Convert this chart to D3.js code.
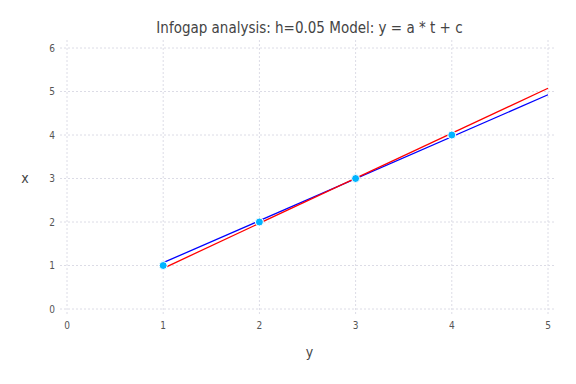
<!DOCTYPE html>
<html lang="en">
<head>
<meta charset="UTF-8">
<title>Infogap analysis</title>
<script src="https://d3js.org/d3.v7.min.js"></script>
<style>
  body { margin: 0; background: #fff; }
  text { font-family: "DejaVu Sans Condensed", "DejaVu Sans", sans-serif; }
</style>
</head>
<body>
<script>
// data
const xTicks = [0, 1, 2, 3, 4, 5];
const yTicks = [0, 1, 2, 3, 4, 5, 6];
const pointX = [1, 2, 3, 4];
const pointY = [1, 2, 3, 4];
const lineX = [1, 5];
const upperY = [0.935, 5.075];   // red
const lowerY = [1.065, 4.925];   // blue

const width = 576, height = 384;
const m = { left: 67, right: 548, top: 48, bottom: 309 };

const svg = d3.select("body").append("svg")
  .attr("width", width)
  .attr("height", height);

const x = d3.scaleLinear().domain([0, 5]).range([m.left, m.right]);
const y = d3.scaleLinear().domain([0, 6]).range([m.bottom, m.top]);

// grid
svg.append("g")
  .selectAll("line")
  .data(xTicks)
  .join("line")
  .attr("x1", d => x(d)).attr("x2", d => x(d))
  .attr("y1", m.top - 8).attr("y2", m.bottom + 6)
  .attr("stroke", "#dcdce6")
  .attr("stroke-dasharray", "2,2");

svg.append("g")
  .selectAll("line")
  .data(yTicks)
  .join("line")
  .attr("x1", m.left - 7).attr("x2", m.right + 7)
  .attr("y1", d => y(d)).attr("y2", d => y(d))
  .attr("stroke", "#dcdce6")
  .attr("stroke-dasharray", "2,2");

// tick labels
svg.append("g")
  .selectAll("text")
  .data(xTicks)
  .join("text")
  .attr("x", d => x(d))
  .attr("y", m.bottom + 20)
  .attr("text-anchor", "middle")
  .attr("font-size", 10)
  .attr("fill", "#555")
  .text(d => d);

svg.append("g")
  .selectAll("text")
  .data(yTicks)
  .join("text")
  .attr("x", m.left - 12)
  .attr("y", d => y(d))
  .attr("dy", "0.35em")
  .attr("text-anchor", "end")
  .attr("font-size", 10)
  .attr("fill", "#555")
  .text(d => d);

// axis titles
svg.append("text")
  .attr("x", (m.left + m.right) / 2 + 2)
  .attr("y", 357)
  .attr("text-anchor", "middle")
  .attr("font-size", 14)
  .attr("fill", "#444")
  .text("y");

svg.append("text")
  .attr("x", 25)
  .attr("y", (m.top + m.bottom) / 2)
  .attr("dy", "0.35em")
  .attr("text-anchor", "middle")
  .attr("font-size", 14)
  .attr("fill", "#444")
  .text("x");

svg.append("text")
  .attr("x", (m.left + m.right) / 2 + 2)
  .attr("y", 33)
  .attr("text-anchor", "middle")
  .attr("font-size", 15)
  .attr("fill", "#444")
  .text("Infogap analysis: h=0.05 Model: y = a * t + c");

// model bounds
const line = d3.line().x(d => x(d[0])).y(d => y(d[1]));

svg.append("path")
  .datum(lineX.map((v, i) => [v, lowerY[i]]))
  .attr("d", line)
  .attr("fill", "none")
  .attr("stroke", "#0000ff")
  .attr("stroke-width", 1.3);

svg.append("path")
  .datum(lineX.map((v, i) => [v, upperY[i]]))
  .attr("d", line)
  .attr("fill", "none")
  .attr("stroke", "#ff0000")
  .attr("stroke-width", 1.3);

// observations
svg.append("g")
  .selectAll("circle")
  .data(pointX.map((v, i) => [v, pointY[i]]))
  .join("circle")
  .attr("cx", d => x(d[0]))
  .attr("cy", d => y(d[1]))
  .attr("r", 4)
  .attr("fill", "#00b4ff")
  .attr("stroke", "#fff")
  .attr("stroke-width", 1);
</script>
</body>
</html>
